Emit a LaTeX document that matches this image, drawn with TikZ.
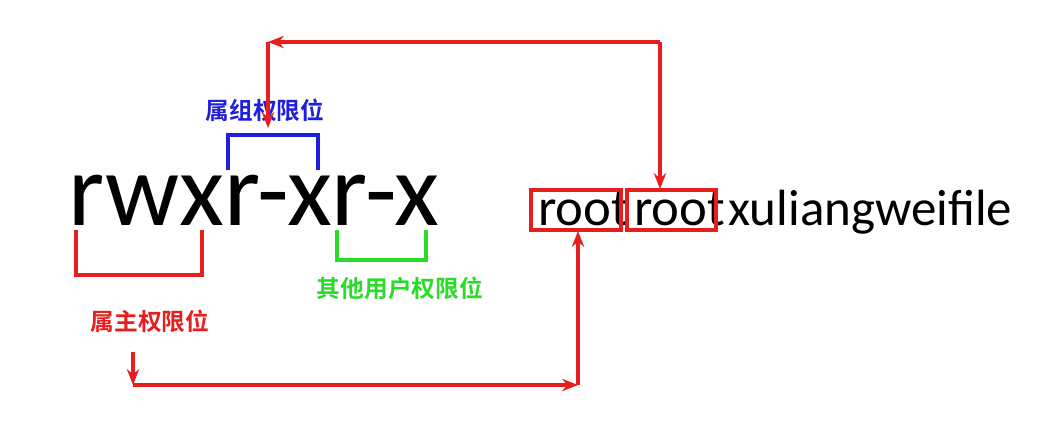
\documentclass[tikz,border=0pt]{standalone}
\usepackage{fontspec}
\setmainfont{Carlito}
\newfontfamily\cjk{Noto Sans CJK SC}[BoldFont={* Bold}]
\usetikzlibrary{arrows.meta}
\definecolor{myred}{RGB}{230,30,30}
\definecolor{myblue}{RGB}{30,30,220}
\definecolor{mygreen}{RGB}{40,220,40}
\begin{document}
\begin{tikzpicture}[x=0.02cm,y=-0.02cm,
  br/.style={line width=2.2pt},
  arr/.style={line width=2pt,myred,-{Stealth[length=9pt,width=7pt]}},
  lab/.style={font=\cjk\bfseries\fontsize{13.5}{15}\selectfont}]
\useasboundingbox (0,0) rectangle (1058,426);
\node[anchor=base west,inner sep=0,font=\fontsize{59}{62}\selectfont] (perm) at (68,225) {rwxr-xr-x};
\node[anchor=base west,inner sep=0,font=\fontsize{30}{36}\selectfont] (r1) at (538,225) {root};
\node[anchor=base west,inner sep=0,font=\fontsize{30}{36}\selectfont] (r2) at (634,225) {root};
\node[anchor=base west,inner sep=0,font=\fontsize{29}{36}\selectfont] (f) at (728,225) {xuliangweifile};
\draw[br,myred] (531,190) rectangle (621,230);
\draw[br,myred] (627,190) rectangle (716,230);
\coordinate (b1) at (578,231);
\coordinate (b2) at (660,189);
\draw[br,myblue] (228,170) -- (228,135) -- (318,135) -- (318,170);
\node[lab,text=myblue] (lb) at (265,110) {属组权限位};
\draw[br,mygreen] (337,230) -- (337,260) -- (426,260) -- (426,230);
\node[lab,text=mygreen] (lg) at (400,288) {其他用户权限位};
\draw[br,myred] (76,230) -- (76,275) -- (202,275) -- (202,230);
\node[lab,text=myred] (lr) at (150,321) {属主权限位};
\coordinate (s) at (133,352);
\coordinate (c) at (133,385);
\coordinate (d) at (578,385);
\coordinate (t) at (268,128);
\coordinate (tc) at (268,42);
\coordinate (tr) at (660,42);
\draw[arr] (s) -- (c);
\draw[arr] (c) -- (d);
\draw[arr] (d) -- (b1);
\draw[arr] (tr) -- (b2);
\draw[arr] (tr) -- (tc);
\draw[arr] (tc) -- (t);
\end{tikzpicture}
\end{document}
